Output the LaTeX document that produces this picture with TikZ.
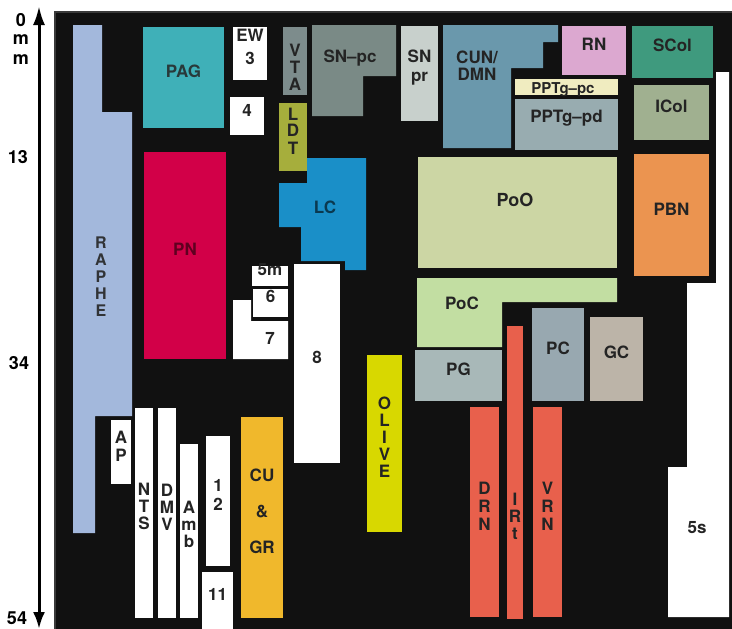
\documentclass[tikz,border=0pt]{standalone}
\usepackage{fontspec}
\setmainfont{TeX Gyre Heros}
\usepackage{tikz}
\usetikzlibrary{arrows.meta, fit}

\definecolor{panel}{HTML}{111111}
\definecolor{rim}{HTML}{3A3A3A}
\definecolor{ink}{HTML}{242424}
\definecolor{raphe}{HTML}{A3B8DC}
\definecolor{pag}{HTML}{3FB0B8}
\definecolor{vta}{HTML}{7D8C8C}
\definecolor{ldt}{HTML}{A6AE3C}
\definecolor{snpc}{HTML}{7A8A86}
\definecolor{snpr}{HTML}{C8D0CC}
\definecolor{cun}{HTML}{6A98AC}
\definecolor{rn}{HTML}{DCA8D0}
\definecolor{scol}{HTML}{3F9A7E}
\definecolor{pptpc}{HTML}{F0ECC0}
\definecolor{pptpd}{HTML}{98ACB0}
\definecolor{icol}{HTML}{A0B090}
\definecolor{pbn}{HTML}{EB9450}
\definecolor{poo}{HTML}{CCD6A4}
\definecolor{poc}{HTML}{C2DEA2}
\definecolor{pg}{HTML}{A8B8B8}
\definecolor{pc}{HTML}{98A8B0}
\definecolor{gc}{HTML}{BCB4A8}
\definecolor{raph}{HTML}{E8604C}
\definecolor{lc}{HTML}{1A8FC8}
\definecolor{pn}{HTML}{D20048}
\definecolor{olive}{HTML}{D8D800}
\definecolor{cugr}{HTML}{F0B82C}

\begin{document}
\begin{tikzpicture}[
      x=1pt, y=-1pt,
      nuc/.style={fill=#1, inner sep=0pt, align=center, text=ink, font=\fontsize{17}{17}\selectfont\bfseries},
      lbl/.style={inner sep=0pt, align=center, text=ink, font=\fontsize{17}{17}\selectfont\bfseries},
      tick/.style={inner sep=0pt, text=black, font=\fontsize{18}{18}\selectfont\bfseries},
      axis/.style={{Latex[length=19pt, width=12pt]}-{Latex[length=17pt, width=12pt]}, line width=3pt}
  ]
      \useasboundingbox (0,0) rectangle (732,629);
      \fill[panel] (54,11) rectangle (732,629);
      \draw[rim, line width=2pt] (55,629) -- (55,12) -- (732,12);

      % Depth axis
      \coordinate (ztop) at (39,6);
      \coordinate (zbot) at (39,629);
      \draw[axis] (ztop) -- (zbot);
      \node[tick] (t0) at (21,20) {0};
      \node[tick] (tm1) at (21,40) {m};
      \node[tick] (tm2) at (21,60) {m};
      \node[tick] (t13) at (18,157) {13};
      \node[tick] (t34) at (19,363) {34};
      \node[tick] (t54) at (17,618) {54};

      % Midline and left column
      \fill[raphe] (73,25) -- (102,25) -- (102,112) -- (132,112) -- (132,416)
            -- (95,416) -- (95,533) -- (73,533) -- cycle;
      \node[lbl, font=\fontsize{16}{17}\selectfont\bfseries, text=ink!90!raphe] (rapheL) at (101,277) {R\\A\\P\\H\\E};
      \node[nuc=pag, fit={(143,27)(224,128)}, text=ink!85!pag] (pag) {PAG};
      \node[nuc=pn, fit={(144,152)(226,359)}, text=pn!45!black] (pn) {PN};
      \node[nuc=white, fit={(111,420)(131,484)}] (ap) {A\\[1pt]P};
      \node[nuc=white, fit={(135,408)(153,618)}] (nts) {N\\T\\S};
      \node[nuc=white, fit={(158,408)(176,618)}] (dmv) {D\\M\\V};
      \node[nuc=white, fit={(180,444)(198,618)}] (amb) {A\\m\\b};
      \node[nuc=white, fit={(206,436)(230,566)}] (n12) {1\\[2pt]2};
      \node[nuc=white, fit={(202,572)(233,629)}] (n11) {11};
      \node[nuc=cugr, fit={(241,417)(283,618)}] (cugr) {CU\\[19pt]\&\\[19pt]GR};

      % Cranial nerve nuclei
      \node[nuc=white, fit={(233,27)(267,80)}] (ew) {EW\\[6pt]3};
      \node[nuc=white, fit={(230,97)(264,135)}] (n4) {4};
      \node[nuc=white, fit={(252,266)(288,286)}] (n5m) {5m};
      \node[nuc=white, fit={(253,289)(288,317)}] (n6) {6};
      \fill[white] (233,300) -- (251,300) -- (251,321) -- (288,321) -- (288,359) -- (233,359) -- cycle;
      \node[lbl] (n7L) at (270,338) {7};
      \node[nuc=white, fit={(294,264)(340,463)}] (n8) {8};

      % Upper tegmentum
      \node[nuc=vta, fit={(283,27)(307,95)}] (vta) {};
      \node[lbl] (vtaL) at (295,67) {V\\T\\A};
      \node[nuc=ldt, fit={(279,103)(307,171)}] (ldt) {L\\D\\T};
      \fill[snpc] (312,25) -- (396,25) -- (396,76) -- (363,76) -- (363,116) -- (312,116) -- cycle;
      \node[lbl] (snpcL) at (350,58) {SN--pc};
      \node[nuc=snpr, fit={(401,26)(438,121)}] (snpr) {SN\\[2pt]pr};
      \fill[cun] (443,25) -- (558,25) -- (558,42) -- (543,42) -- (543,68) -- (511,68)
            -- (511,148) -- (443,148) -- cycle;
      \node[lbl] (cunL) at (477,66) {CUN/\\DMN};
      \node[nuc=rn, fit={(562,26)(626,75)}] (rn) {RN};
      \node[nuc=scol, fit={(632,26)(713,78)}] (scol) {SCol};
      \node[nuc=pptpc, fit={(515,79)(618,95)}] (pptpc) {};
      \node[lbl, font=\fontsize{15}{16}\selectfont\bfseries, anchor=base] (pptpcL) at (563,93) {PPTg--pc};
      \node[nuc=pptpd, fit={(515,99)(618,150)}] (pptpd) {PPTg--pd};
      \node[nuc=icol, fit={(634,85)(709,140)}] (icol) {ICol};
      \node[nuc=pbn, fit={(634,154)(709,276)}] (pbn) {PBN};
      \fill[lc] (307,158) -- (366,158) -- (366,270) -- (345,270) -- (345,261) -- (301,261)
            -- (301,227) -- (279,227) -- (279,183) -- (307,183) -- cycle;
      \node[lbl, text=lc!40!black] (lcL) at (325,207) {LC};

      % Pontine reticular formation
      \node[nuc=poo, fit={(418,157)(617,268)}] (poo) {};
      \node[lbl, font=\fontsize{18}{18}\selectfont\bfseries] (pooL) at (515,200) {PoO};
      \fill[poc] (417,278) -- (617,278) -- (617,302) -- (502,302) -- (502,347) -- (417,347) -- cycle;
      \node[lbl] (pocL) at (462,303) {PoC};
      \node[nuc=pg, fit={(415,350)(502,401)}] (pg) {PG};
      \node[nuc=pc, fit={(532,308)(584,401)}] (pc) {PC};
      \node[nuc=gc, fit={(590,317)(643,401)}] (gc) {GC};
      \node[nuc=olive, fit={(367,355)(402,532)}] (olive) {O\\L\\I\\V\\E};

      % Raphe nuclei
      \node[nuc=raph, fit={(470,407)(499,617)}] (drn) {D\\[1pt]R\\[1pt]N};
      \node[nuc=raph, fit={(507,326)(523,619)}] (irt) {};
      \node[lbl] (irtL) at (515,516) {I\\R\\t};
      \node[nuc=raph, fit={(533,407)(562,617)}] (vrn) {V\\[1pt]R\\[1pt]N};

      % Trigeminal sensory
      \fill[white] (716,72) -- (729,72) -- (729,617) -- (668,617) -- (668,467) -- (687,467)
            -- (687,283) -- (716,283) -- cycle;
      \node[lbl] (n5sL) at (697,528) {5s};
  \end{tikzpicture}
\end{document}
